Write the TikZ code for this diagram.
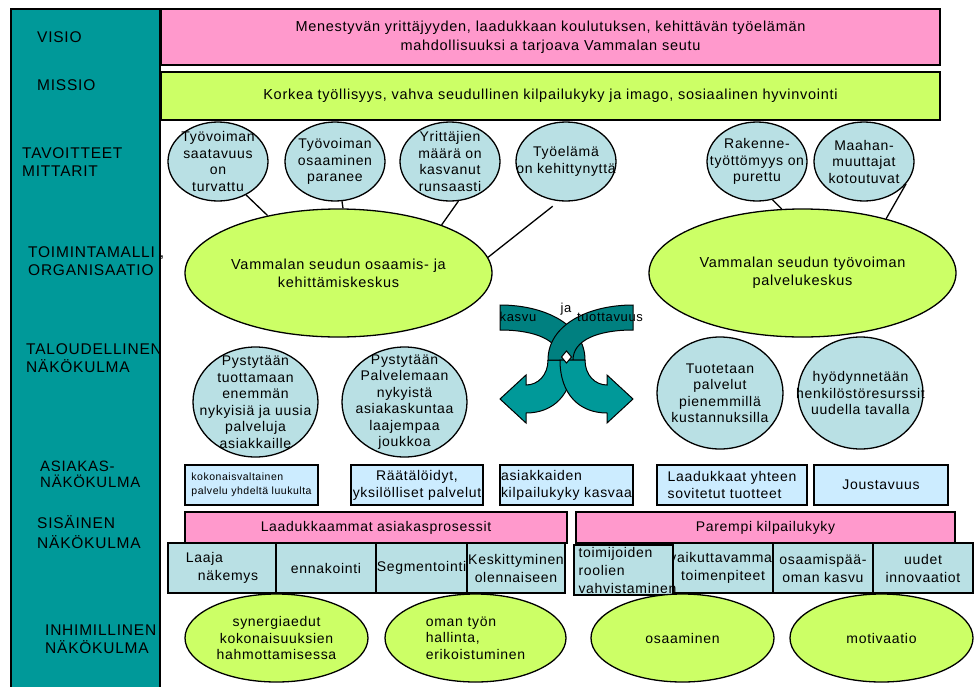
\documentclass[tikz,border=0pt]{standalone}
\usepackage{fontspec}
\setmainfont{Liberation Sans}[LetterSpace=5]
\usepackage{xcolor}
\usetikzlibrary{shapes.geometric}
\definecolor{colTeal}{RGB}{0,153,153}
\definecolor{colDarkTeal}{RGB}{0,128,128}
\definecolor{colPink}{RGB}{255,153,204}
\definecolor{colGreen}{RGB}{204,255,102}
\definecolor{colAqua}{RGB}{185,224,228}
\definecolor{colSky}{RGB}{204,236,255}
\tikzstyle{side}=[
    anchor=west,
    align=left,
    inner sep=0pt,
    text=black,
    font=\fontsize{15.5}{18}\selectfont]
\tikzstyle{banner}=[
    rectangle,
    draw=black,
    line width=1.5pt,
    inner sep=0pt,
    align=center,
    font=\fontsize{14.5}{19}\selectfont]
\tikzstyle{goal}=[
    ellipse,
    draw=black,
    line width=1.3pt,
    fill=colAqua,
    inner sep=-25pt,
    align=center,
    font=\fontsize{14}{16.5}\selectfont]
\tikzstyle{centre}=[
    ellipse,
    draw=black,
    line width=1.3pt,
    fill=colGreen,
    inner sep=-25pt,
    align=center,
    minimum width=307pt,
    minimum height=128pt,
    font=\fontsize{14.5}{18}\selectfont]
\tikzstyle{cbox}=[
    rectangle,
    draw=black,
    line width=1.3pt,
    fill=colSky,
    inner sep=0pt,
    minimum height=40pt,
    font=\fontsize{14}{17}\selectfont]
\tikzstyle{cell}=[
    rectangle,
    draw=black,
    line width=1.3pt,
    fill=colAqua,
    inner sep=0pt,
    minimum height=50pt,
    font=\fontsize{14}{18}\selectfont]
\tikzstyle{human}=[
    ellipse,
    draw=black,
    line width=1.3pt,
    fill=colGreen,
    inner sep=-25pt,
    minimum height=88pt,
    font=\fontsize{14}{16.5}\selectfont]

\begin{document}
\begin{tikzpicture}[x=1pt,y=1pt,yscale=-1,xscale=1]
\useasboundingbox (0,0) rectangle (977,686);

%Shape: Rectangle (left column)
\draw [fill=colTeal, line width=1.5pt] (11,9) rectangle (160,700);

% Text Node
\node [side] (lblVisio) at (37,37) {VISIO};
% Text Node
\node [side] (lblMissio) at (37,85) {MISSIO};
% Text Node
\node [side] (lblTavoitteet) at (22,162) {TAVOITTEET\\MITTARIT};
% Text Node
\node [side] (lblToiminta) at (28,261) {TOIMINTAMALLI ,\\ORGANISAATIO};
% Text Node
\node [side] (lblTalous) at (26,358) {TALOUDELLINEN\\NÄKÖKULMA};
% Text Node
\node [side, font=\fontsize{15}{16}\selectfont] (lblAsiakas) at (40,474) {ASIAKAS-\\NÄKÖKULMA};
% Text Node
\node [side, font=\fontsize{15.5}{20}\selectfont] (lblSisainen) at (37,532) {SISÄINEN\\NÄKÖKULMA};
% Text Node
\node [side] (lblInhim) at (45,639) {INHIMILLINEN\\NÄKÖKULMA};

%Shape: Rectangle (visio)
\node [banner, fill=colPink, minimum width=779pt, minimum height=56pt] (visio) at (550.5,37) {Menestyvän yrittäjyyden, laadukkaan koulutuksen, kehittävän työelämän\\mahdollisuuksi a tarjoava Vammalan seutu};
%Shape: Rectangle (missio)
\node [banner, fill=colGreen, minimum width=779pt, minimum height=48pt] (missio) at (550.5,96) {Korkea työllisyys, vahva seudullinen kilpailukyky ja imago, sosiaalinen hyvinvointi};

%Shape: Ellipse (tavoitteet)
\node [goal, minimum width=100pt, minimum height=79pt] (tav1) at (218,161.5) {Työvoiman\\saatavuus\\on\\turvattu};
\node [goal, minimum width=100pt, minimum height=79pt] (tav2) at (335,161.5) {Työvoiman\\osaaminen\\paranee};
\node [goal, minimum width=100pt, minimum height=79pt] (tav3) at (450,161.5) {Yrittäjien\\määrä on\\kasvanut\\runsaasti};
\node [goal, minimum width=100pt, minimum height=79pt] (tav4) at (566,161.5) {Työelämä\\on kehittynyttä};
\node [goal, minimum width=100pt, minimum height=79pt] (tav5) at (757,161.5) {Rakenne-\\työttömyys on\\purettu};
\node [goal, minimum width=100pt, minimum height=79pt] (tav6) at (864,161.5) {Maahan-\\muuttajat\\kotoutuvat};

%Shape: Ellipse (toimintamalli)
\node [centre] (keskusL) at (338.5,273) {Vammalan seudun osaamis- ja\\kehittämiskeskus};
\node [centre] (keskusR) at (802.5,273) {Vammalan seudun työvoiman\\palvelukeskus};

%Straight Lines
\draw [line width=1.3pt] (tav1.-50) -- (keskusL.141);
\draw [line width=1.3pt] (tav2.-80) -- (keskusL.86);
\draw [line width=1.3pt] (tav3.-78) -- (keskusL.25);
\draw [line width=1.3pt, shorten <=8pt] (tav4.-100) -- (keskusL.6);
\draw [line width=1.3pt] (tav5.-68) -- (keskusR.108);
\draw [line width=1.3pt] (tav6.-28) -- (keskusR.33);

%Shape: Curved Arrows (kasvu ja tuottavuus)
\filldraw [fill=colDarkTeal, line width=1pt] (500,305) .. controls (545,305) and (585,325) .. (585,360) -- (560,360) .. controls (560,340) and (535,330) .. (500,330) -- cycle;
\filldraw [fill=colTeal, line width=1pt] (573,360) .. controls (573,395) and (553,413) .. (526,413) -- (526,423) -- (500,399) -- (526,375) -- (526,385) .. controls (538,385) and (548,375) .. (548,360) -- cycle;
\filldraw [fill=colDarkTeal, line width=1pt] (633,305) .. controls (588,305) and (548,325) .. (548,360) -- (573,360) .. controls (573,340) and (598,330) .. (633,330) -- cycle;
\filldraw [fill=colTeal, line width=1pt] (560,360) .. controls (560,395) and (580,413) .. (607,413) -- (607,423) -- (633,399) -- (607,375) -- (607,385) .. controls (595,385) and (585,375) .. (585,360) -- cycle;
\filldraw [fill=white, line width=1pt] (566.5,351) -- (571.5,357) -- (566.5,363) -- (561.5,357) -- cycle;
% Text Node
\node [inner sep=0pt, font=\fontsize{13}{15}\selectfont] (lblKasvu) at (518,317) {kasvu};
\node [inner sep=0pt, font=\fontsize{13}{15}\selectfont] (lblJa) at (566,309) {ja};
\node [inner sep=0pt, font=\fontsize{13}{15}\selectfont] (lblTuotto) at (610,317) {tuottavuus};

%Shape: Ellipse (taloudellinen)
\node [goal, minimum width=125pt, minimum height=110pt] (tal1) at (255.5,402) {Pystytään\\tuottamaan\\enemmän\\nykyisiä ja uusia\\palveluja\\asiakkaille};
\node [goal, minimum width=125pt, minimum height=110pt] (tal2) at (404.5,402) {Pystytään\\Palvelemaan\\nykyistä\\asiakaskuntaa\\laajempaa\\joukkoa};
\node [goal, minimum width=126pt, minimum height=112pt] (tal3) at (720,393) {Tuotetaan\\palvelut\\pienemmillä\\kustannuksilla};
\node [goal, minimum width=125pt, minimum height=112pt] (tal4) at (860.5,393) {hyödynnetään\\henkilöstöresurssit\\uudella tavalla};

%Shape: Rectangle (asiakas)
\node [cbox, minimum width=133pt, align=left, font=\fontsize{10.5}{14}\selectfont] (asi1) at (251.5,485) {kokonaisvaltainen\\palvelu yhdeltä luukulta};
\node [cbox, minimum width=132pt, align=center] (asi2) at (417,485) {Räätälöidyt,\\yksilölliset palvelut};
\node [cbox, minimum width=133pt, align=left] (asi3) at (566.5,485) {asiakkaiden\\kilpailukyky kasvaa};
\node [cbox, minimum width=150pt, align=left] (asi4) at (732,485) {Laadukkaat yhteen\\sovitetut tuotteet};
\node [cbox, minimum width=134pt, align=center] (asi5) at (881,485) {Joustavuus};

%Shape: Rectangle (sisainen)
\node [banner, fill=colPink, line width=1.3pt, minimum width=382pt, minimum height=31pt, font=\fontsize{14}{17}\selectfont] (sisL) at (376,527.5) {Laadukkaammat asiakasprosessit};
\node [banner, fill=colPink, line width=1.3pt, minimum width=379pt, minimum height=31pt, font=\fontsize{14}{17}\selectfont] (sisR) at (765.5,527.5) {Parempi kilpailukyky};

%Shape: Rectangle (cells)
\node [cell, minimum width=108pt, align=left] (cell1) at (222,568) {Laaja\\\hspace*{12pt}näkemys};
\node [cell, minimum width=100pt, align=center] (cell2) at (326,568) {ennakointi};
\node [cell, minimum width=91pt, align=center] (cell3) at (421.5,568) {Segmentointi};
\node [cell, minimum width=98pt, align=center] (cell4) at (516,568) {Keskittyminen\\olennaiseen};
\node [cell, minimum width=100pt, align=center] (cell6) at (723,568) {vaikuttavammat\\toimenpiteet};
\node [cell, minimum width=99pt, align=left, text width=90pt] (cell5) at (623.5,570) {toimijoiden\\roolien\\vahvistaminen};
\node [cell, minimum width=100pt, align=center] (cell7) at (823,568) {osaamispää-\\oman kasvu};
\node [cell, minimum width=100pt, align=center] (cell8) at (923,568) {uudet\\innovaatiot};

%Shape: Ellipse (inhimillinen)
\node [human, minimum width=183pt, align=center] (inh1) at (276.5,638) {synergiaedut\\kokonaisuuksien\\hahmottamisessa};
\node [human, minimum width=181pt, align=left] (inh2) at (475.5,638) {oman työn\\hallinta,\\erikoistuminen};
\node [human, minimum width=183pt, align=center] (inh3) at (682.5,638) {osaaminen};
\node [human, minimum width=183pt, align=center] (inh4) at (881.5,638) {motivaatio};

\end{tikzpicture}
\end{document}
